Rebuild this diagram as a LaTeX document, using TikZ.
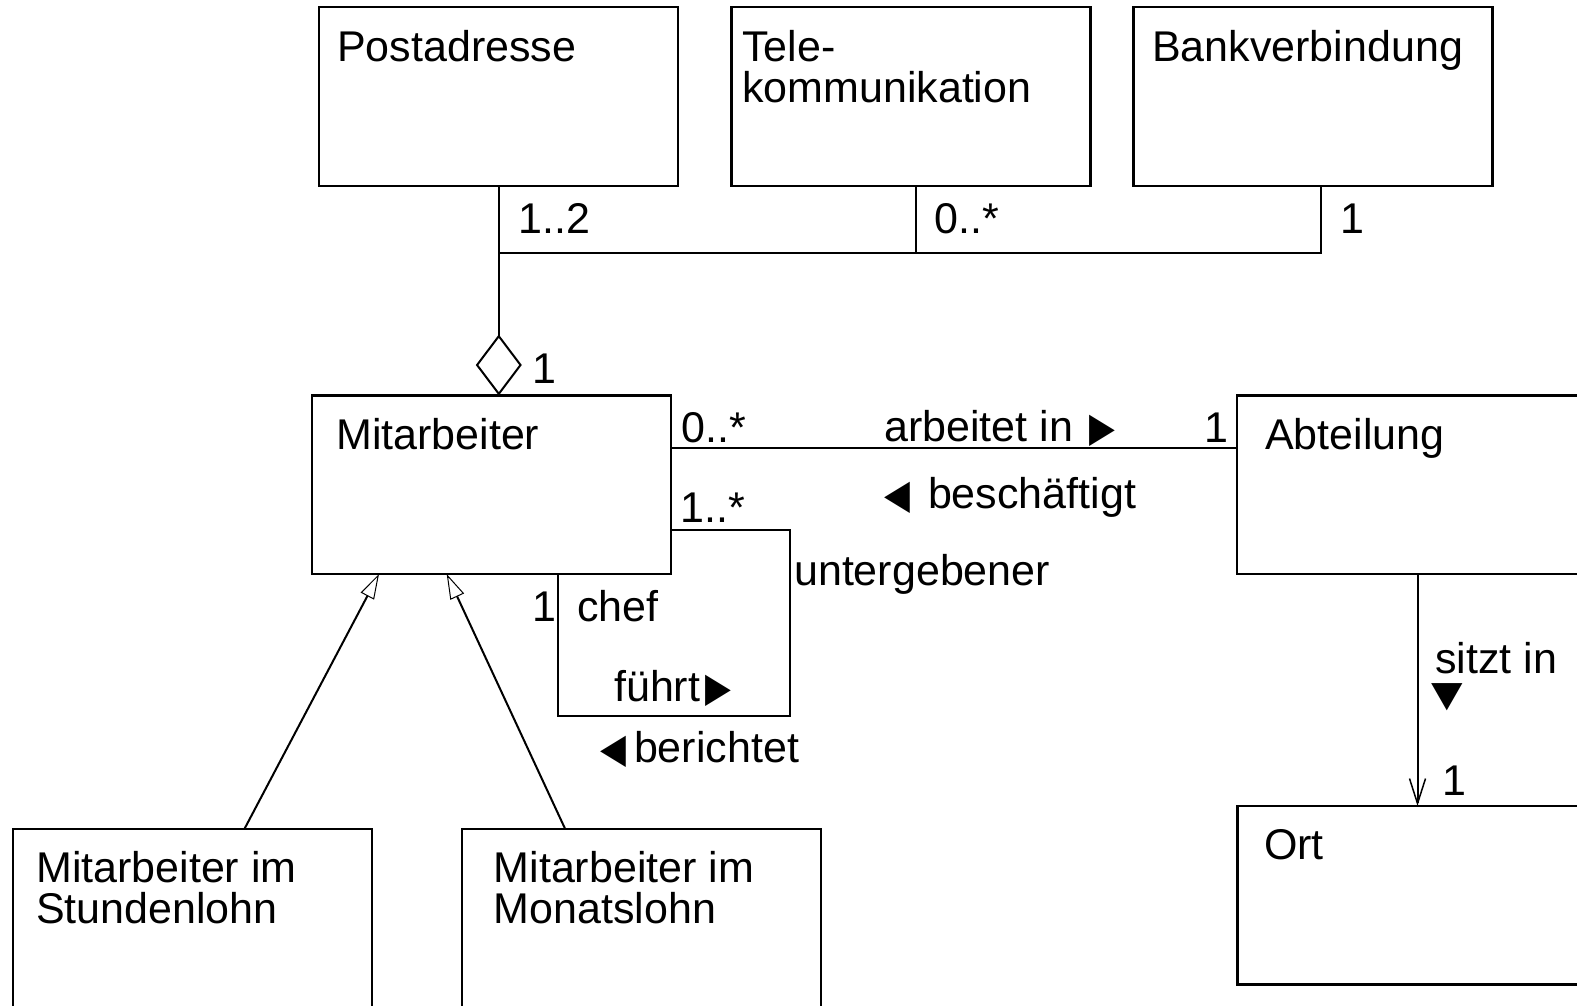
\documentclass[tikz,border=0pt]{standalone}
\usepackage{fontspec}
\usepackage{graphicx}
\setmainfont{Liberation Sans}
\newfontfamily\symfont{DejaVu Sans}
\usetikzlibrary{arrows.meta,calc}
\newcommand{\trih}[1]{{\symfont\fontsize{41}{41}\selectfont\scalebox{0.82}[1]{#1}}}
\newcommand{\triv}[1]{{\symfont\fontsize{41}{41}\selectfont\scalebox{1}[0.87]{#1}}}
\begin{document}
\begin{tikzpicture}[x=1pt,y=-1pt,
  box/.style={draw, line width=2.2pt, minimum width=359pt, minimum height=178.5pt, anchor=north west, inner sep=0pt, outer sep=0pt},
  txt/.style={anchor=base west, inner sep=0pt, font=\fontsize{43}{40.5}\selectfont, align=left},
  conn/.style={line width=2pt},
]
\useasboundingbox (0,0) rectangle (1577,1005);
\clip (0,0) rectangle (1577,1005);
\fill[white] (0,0) rectangle (1577,1005);
% boxes
\node[box] (post) at (319.3,7.3) {};
\node[box] (tele) at (731.5,7.3) {};
\node[box] (bank) at (1133.5,7.3) {};
\node[box] (mit) at (312,395.5) {};
\node[box] (abt) at (1237,395.5) {};
\node[box] (ort) at (1237.5,806) {};
\node[box] (stund) at (13.3,829) {};
\node[box] (monat) at (461.7,829) {};
% box texts (multi-line nodes: base = last line)
\node[txt] (tpost) at (337,61.7) {Postadresse};
\node[txt] (ttele) at (742,102.2) {Tele-\\kommunikation};
\node[txt] (tbank) at (1152,61.7) {Bankverbindung};
\node[txt] (tmit) at (336,449) {Mitarbeiter};
\node[txt] (tabt) at (1265,449.3) {Abteilung};
\node[txt] (tort) at (1264,859) {Ort};
\node[txt] (tstund) at (36,923.3) {Mitarbeiter im\\Stundenlohn};
\node[txt] (tmonat) at (493.5,923.3) {Mitarbeiter im\\Monatslohn};
% helper coordinates
\coordinate (xp) at (498.8,0);
\coordinate (xt) at (916,0);
\coordinate (xb) at (1320.5,0);
\coordinate (bus) at (498.8,253.4);
\coordinate (ya) at (0,448);
\coordinate (yl) at (0,530);
\coordinate (lc) at (790,716);
\coordinate (xl) at (558.3,0);
\coordinate (xo) at (1417.5,0);
\coordinate (g1s) at (244.4,0);
\coordinate (g1e) at (379,0);
\coordinate (g2s) at (565.2,0);
\coordinate (g2e) at (446.7,0);
% connectors
\draw[conn, -{Diamond[open, length=61pt, width=46pt, line width=2pt]}] (post.south -| xp) -- (mit.north -| xp);
\draw[conn] (tele.south -| xt) -- (xt |- bus);
\draw[conn] (bank.south -| xb) |- (bus);
\draw[conn] (mit.east |- ya) -- (abt.west |- ya);
\draw[conn] (mit.east |- yl) -| (lc) -| (mit.south -| xl);
\draw[conn, -{Straight Barb[length=25pt, width=16pt, line width=1.5pt]}] (abt.south -| xo) -- (ort.north -| xo);
\draw[conn, -{Triangle[open, length=25pt, width=15pt, line width=1pt]}] (stund.north -| g1s) -- (mit.south -| g1e);
\draw[conn, -{Triangle[open, length=25pt, width=15pt, line width=1pt]}] (monat.north -| g2s) -- (mit.south -| g2e);
% labels
\node[txt] (m12) at (518,233.4) {1..2};
\node[txt] (m0s) at (934,233.4) {0..*};
\node[txt] (m1b) at (1340,233.4) {1};
\node[txt] (m1a) at (532,383.5) {1};
\node[txt] (m0a) at (681,442) {0..*};
\node[txt] (larb) at (884,441.7) {arbeitet in\hspace{5pt} \trih{▶}};
\node[txt] (m1abt) at (1204,442) {1};
\node[txt] (lbes) at (884,508.3) {\trih{◀}\hspace{6pt} beschäftigt};
\node[txt] (m1s) at (680.5,522.7) {1..*};
\node[txt] (lunt) at (794,585) {untergebener};
\node[txt] (m1c) at (532,621.7) {1};
\node[txt] (lchef) at (577,621.7) {chef};
\node[txt] (lfuehrt) at (614,701.7) {führt\hspace{5pt}\trih{▶}};
\node[txt] (lber) at (600,762.7) {\trih{◀}\hspace{8pt}berichtet};
\node[txt] (lsitzt) at (1435,673) {sitzt in};
\node[txt] (ltri) at (1431,706.5) {\triv{▼}};
\node[txt] (m1o) at (1442,795) {1};
\end{tikzpicture}
\end{document}
